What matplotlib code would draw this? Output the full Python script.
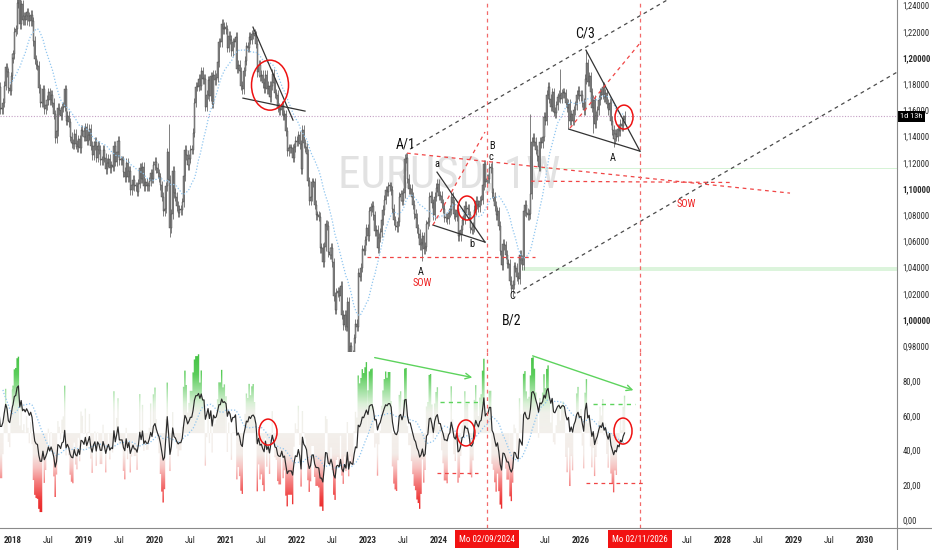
import numpy as np
import pandas as pd
import matplotlib
matplotlib.use("Agg")
import matplotlib.pyplot as plt
import matplotlib.transforms as mtransforms
from matplotlib.path import Path
from matplotlib.patches import PathPatch, Ellipse
from matplotlib.lines import Line2D
from matplotlib.colors import LinearSegmentedColormap, Normalize

plt.rcParams['font.family'] = ['Liberation Sans Narrow', 'Roboto Condensed', 'Liberation Sans', 'DejaVu Sans']

W, H = 932, 550
WEEK = 1 / 52.18

# weekly closes EURUSD, one list per year (first value = first week of the list)
start_2017 = 2017.59
close_2017 = [1.177, 1.182, 1.176, 1.192, 1.186, 1.203, 1.194, 1.195, 1.181, 1.173, 1.182, 1.178,
              1.161, 1.161, 1.166, 1.179, 1.193, 1.189, 1.177, 1.175, 1.186, 1.200]
close_2018 = [1.203, 1.220, 1.222, 1.242, 1.247, 1.226, 1.241, 1.229, 1.232, 1.229, 1.235, 1.232,
              1.228, 1.233, 1.228, 1.213, 1.199, 1.195, 1.194, 1.177, 1.166, 1.166, 1.176, 1.161,
              1.164, 1.168, 1.174, 1.168, 1.172, 1.166, 1.157, 1.139, 1.144, 1.162, 1.160, 1.156,
              1.162, 1.163, 1.176, 1.152, 1.156, 1.151, 1.140, 1.135, 1.134, 1.142, 1.134, 1.132,
              1.138, 1.131, 1.145, 1.144]
close_2019 = [1.140, 1.147, 1.137, 1.141, 1.146, 1.133, 1.126, 1.133, 1.136, 1.124, 1.133, 1.130,
              1.122, 1.122, 1.130, 1.124, 1.115, 1.120, 1.123, 1.116, 1.118, 1.117, 1.133, 1.121,
              1.128, 1.137, 1.122, 1.122, 1.122, 1.113, 1.109, 1.120, 1.109, 1.114, 1.099, 1.103,
              1.107, 1.102, 1.102, 1.098, 1.104, 1.116, 1.108, 1.117, 1.102, 1.105, 1.102, 1.102,
              1.106, 1.112, 1.108, 1.118]
close_2020 = [1.121, 1.116, 1.112, 1.109, 1.103, 1.094, 1.083, 1.085, 1.102, 1.128, 1.107, 1.070,
              1.081, 1.114, 1.097, 1.094, 1.087, 1.082, 1.084, 1.084, 1.090, 1.110, 1.130, 1.126,
              1.118, 1.123, 1.130, 1.130, 1.143, 1.166, 1.178, 1.178, 1.184, 1.179, 1.190, 1.184,
              1.184, 1.163, 1.172, 1.183, 1.171, 1.186, 1.165, 1.187, 1.183, 1.185, 1.197, 1.212,
              1.212, 1.226, 1.222, 1.224]
close_2021 = [1.222, 1.208, 1.217, 1.214, 1.205, 1.212, 1.212, 1.216, 1.192, 1.195, 1.190, 1.179,
              1.176, 1.190, 1.198, 1.209, 1.208, 1.216, 1.214, 1.218, 1.219, 1.217, 1.211, 1.189,
              1.195, 1.186, 1.187, 1.181, 1.177, 1.187, 1.176, 1.179, 1.170, 1.179, 1.188, 1.181,
              1.173, 1.172, 1.162, 1.160, 1.160, 1.164, 1.156, 1.157, 1.144, 1.129, 1.131, 1.131,
              1.131, 1.124, 1.132, 1.137]
close_2022 = [1.136, 1.141, 1.134, 1.115, 1.145, 1.135, 1.132, 1.127, 1.106, 1.091, 1.094, 1.105,
              1.105, 1.088, 1.080, 1.080, 1.079, 1.055, 1.055, 1.044, 1.056, 1.073, 1.072, 1.052,
              1.050, 1.055, 1.044, 1.018, 1.008, 1.021, 1.022, 1.018, 1.026, 1.004, 0.996, 1.004,
              0.995, 1.014, 0.969, 0.980, 0.974, 0.972, 0.986, 0.997, 0.995, 1.036, 1.033, 1.040,
              1.054, 1.053, 1.061, 1.070]
close_2023 = [1.064, 1.083, 1.086, 1.087, 1.080, 1.068, 1.069, 1.055, 1.063, 1.067, 1.076, 1.084,
              1.092, 1.099, 1.098, 1.102, 1.102, 1.099, 1.085, 1.076, 1.072, 1.071, 1.075, 1.094,
              1.096, 1.091, 1.097, 1.123, 1.124, 1.108, 1.100, 1.100, 1.094, 1.088, 1.081, 1.078,
              1.070, 1.066, 1.057, 1.059, 1.064, 1.054, 1.056, 1.073, 1.075, 1.094, 1.095, 1.089,
              1.080, 1.094, 1.101, 1.104]
close_2024 = [1.095, 1.095, 1.089, 1.085, 1.078, 1.078, 1.077, 1.082, 1.084, 1.094, 1.089, 1.081,
              1.079, 1.084, 1.064, 1.065, 1.069, 1.076, 1.077, 1.087, 1.085, 1.085, 1.080, 1.070,
              1.069, 1.071, 1.084, 1.091, 1.088, 1.086, 1.091, 1.092, 1.103, 1.119, 1.105, 1.108,
              1.108, 1.116, 1.116, 1.097, 1.094, 1.087, 1.080, 1.083, 1.072, 1.053, 1.042, 1.058,
              1.057, 1.050, 1.043, 1.043]
close_2025 = [1.030, 1.024, 1.027, 1.041, 1.040, 1.033, 1.031, 1.050, 1.046, 1.042, 1.083, 1.088,
              1.082, 1.080, 1.081, 1.096, 1.136, 1.139, 1.136, 1.130, 1.125, 1.117, 1.136, 1.135,
              1.140, 1.155, 1.152, 1.172, 1.178, 1.169, 1.163, 1.174, 1.159, 1.158, 1.164, 1.170,
              1.172, 1.169, 1.173, 1.174, 1.173, 1.166, 1.162, 1.165, 1.152, 1.157, 1.152, 1.160,
              1.164, 1.172, 1.175, 1.171]
close_2026 = [1.172, 1.166, 1.160, 1.184, 1.196, 1.182, 1.186, 1.174, 1.162, 1.168, 1.150, 1.156,
              1.160, 1.168, 1.174, 1.172, 1.178, 1.170, 1.173, 1.165, 1.160, 1.166, 1.152, 1.145,
              1.138, 1.142, 1.140, 1.146, 1.144, 1.150, 1.148, 1.153, 1.156]

# extreme wicks (time, price)
spike_highs = [(2018.10, 1.2555), (2020.19, 1.1495), (2023.54, 1.1276), (2024.74, 1.1214),
               (2025.28, 1.1573), (2025.71, 1.1919), (2026.07, 1.2060)]
spike_lows = [(2020.22, 1.0636), (2022.74, 0.9536), (2023.76, 1.0448), (2024.30, 1.0601),
              (2025.04, 1.0177), (2025.83, 1.1457), (2026.18, 1.1430), (2026.46, 1.1320)]

last_price = 1.1557
price_ticks = [0.98, 1.00, 1.02, 1.04, 1.06, 1.08, 1.10, 1.12, 1.14, 1.16, 1.18, 1.20, 1.22, 1.24]
osc_ticks = [0, 20, 40, 60, 80]
time_ticks = [2018, 2018.5, 2019, 2019.5, 2020, 2020.5, 2021, 2021.5, 2022, 2022.5, 2023, 2023.5,
              2024, 2024.5, 2025, 2025.5, 2026, 2026.5, 2027, 2027.5, 2028, 2028.5, 2029, 2029.5, 2030]
time_labels = ['2018', 'Jul', '2019', 'Jul', '2020', 'Jul', '2021', 'Jul', '2022', 'Jul', '2023', 'Jul',
               '2024', 'Jul', '2025', 'Jul', '2026', 'Jul', '2027', 'Jul', '2028', 'Jul', '2029', 'Jul', '2030']
marked_dates = [2024.676, 2026.831]
marked_labels = ['Mo 02/09/2024', 'Mo 02/11/2026']

# ---- assemble series
years_lists = [(start_2017, close_2017), (2018, close_2018), (2019, close_2019), (2020, close_2020),
               (2021, close_2021), (2022, close_2022), (2023, close_2023), (2024, close_2024),
               (2025, close_2025), (2026, close_2026)]
xs, cl = [], []
for s, lst in years_lists:
    for k, v in enumerate(lst):
        xs.append(s + k * WEEK)
        cl.append(v)
xs = np.array(xs)
cl = np.array(cl)
op = np.concatenate([[cl[0]], cl[:-1]])
wick = 0.0035
hi = np.maximum(op, cl) + wick
lo = np.minimum(op, cl) - wick
for t, v in spike_highs:
    i = np.argmin(np.abs(xs - t))
    hi[i] = max(hi[i], v)
for t, v in spike_lows:
    i = np.argmin(np.abs(xs - t))
    lo[i] = min(lo[i], v)

s = pd.Series(cl)
ma = s.rolling(20).mean()


def rsi(series, n):
    d = series.diff()
    up = d.clip(lower=0).ewm(alpha=1 / n, adjust=False).mean()
    dn = (-d.clip(upper=0)).ewm(alpha=1 / n, adjust=False).mean()
    return 100 - 100 / (1 + up / dn)


rsi14 = rsi(s, 14)
rsi_ma = rsi14.rolling(14).mean()
fast = rsi(s, 4).fillna(50).values

# ---- figure
fig = plt.figure(figsize=(W / 100, H / 100), dpi=100)
ax = fig.add_axes([0, 1 - 352 / H, 897 / W, 352 / H])
osc = fig.add_axes([0, (H - 528) / H, 897 / W, 176 / H])
XL = (2017.817, 2030.451)
for a in (ax, osc):
    a.set_xlim(*XL)
    for sp in a.spines.values():
        sp.set_visible(False)
    a.set_facecolor('none')
ax.set_ylim(0.9756, 1.2443)
osc.set_ylim(-4.6, 96.7)

yr_px = (XL[1] - XL[0]) / 897
pr_px = (1.2443 - 0.9756) / 352
os_px = (96.7 + 4.6) / 176

# watermark
ax.text(2024.14, 1.1100, 'EURUSD, 1W', fontsize=32.5, color='#e2e2e2', ha='center', va='center', zorder=0)

# candles
ax.vlines(xs, lo, hi, color='#5c5c5c', lw=0.55, zorder=2)
body = np.maximum(np.abs(cl - op), 0.0008)
ax.bar(xs, body, bottom=np.minimum(op, cl), width=WEEK * 0.75, color='#a0a0a0',
       edgecolor='#404040', linewidth=0.3, zorder=3)
ax.plot(xs, ma, color='#8fc5ef', lw=0.9, ls=(0, (1, 1.5)), zorder=4)

# last price line
ax.axhline(last_price, color='#c4a0c4', lw=0.8, ls=(0, (1, 1.5)), zorder=1)

# green zones
ax.fill_between([2025.324, XL[1]], 1.1152, 1.1162, color='#d6f3d6', lw=0, zorder=1)
ax.fill_between([2025.169, XL[1]], 1.0374, 1.0405, color='#dcf4dc', lw=0, zorder=1)

# black trend lines
blk = dict(color='#333333', lw=0.9, zorder=5)
ax.plot([2021.380, 2021.944], [1.2236, 1.1526], **blk)
ax.plot([2021.239, 2022.113], [1.1694, 1.1595], **blk)
ax.plot([2023.972, 2024.648], [1.1129, 1.0595], **blk)
ax.plot([2023.915, 2024.648], [1.0725, 1.0595], **blk)
ax.plot([2026.070, 2026.831], [1.2060, 1.1289], **blk)
ax.plot([2025.831, 2026.831], [1.1457, 1.1289], **blk)
# channel
dsh = dict(color='#4a4a4a', lw=0.9, ls=(0, (3, 3)), zorder=5)
ax.plot([2023.592, 2027.8], [1.1305, 1.2627], **dsh)
ax.plot([2025.099, 2030.451], [1.0206, 1.1892], **dsh)

# red dashed lines
red = dict(color='#f04545', lw=0.9, ls=(0, (3, 3)), zorder=5)
ax.plot([2023.549, 2028.944], [1.1274, 1.0969], **red)
ax.plot([2025.295, 2028.099], [1.1060, 1.1050], **red)
ax.plot([2022.986, 2025.352], [1.0481, 1.0481], **red)
ax.plot([2023.915, 2024.648], [1.0725, 1.1435], **red)
ax.plot([2025.845, 2026.831], [1.1465, 1.2114], **red)
for d in marked_dates:
    ax.axvline(d, color='#f26a6a', lw=0.9, ls=(0, (3, 3)), zorder=5)
    osc.axvline(d, color='#f26a6a', lw=0.9, ls=(0, (3, 3)), zorder=5)

# circles
circ = dict(fill=False, ec='#ee1111', lw=1.1, zorder=6)
ax.add_patch(Ellipse((2021.620, 1.1793), 37 * yr_px, 50 * pr_px, **circ))
ax.add_patch(Ellipse((2024.394, 1.0855), 18 * yr_px, 24 * pr_px, **circ))
ax.add_patch(Ellipse((2026.606, 1.1549), 18 * yr_px, 24 * pr_px, **circ))

# wave labels
big = dict(fontsize=10, color='#111111', ha='center', va='center', zorder=7)
sml = dict(fontsize=7.5, color='#111111', ha='center', va='center', zorder=7)
sow = dict(fontsize=7.5, color='#ee2020', ha='center', va='center', zorder=7)
ax.text(2023.535, 1.1343, 'A/1', **big)
ax.text(2026.056, 1.2190, 'C/3', **big)
ax.text(2025.028, 1.0000, 'B/2', **big)
ax.text(2023.972, 1.1190, 'a', **sml)
ax.text(2024.465, 1.0580, 'b', **sml)
ax.text(2024.746, 1.1328, 'B', **sml)
ax.text(2024.732, 1.1244, 'c', **sml)
ax.text(2023.746, 1.0366, 'A', **sml)
ax.text(2025.028, 1.0183, 'C', **sml)
ax.text(2026.451, 1.1236, 'A', **sml)
ax.text(2023.761, 1.0282, 'SOW', **sow)
ax.text(2027.479, 1.0885, 'SOW', **sow)

# ---- oscillator pane
cmap = LinearSegmentedColormap.from_list('osc', [
    (0.00, '#e51c1c'), (0.12, '#ef3c3c'), (0.22, '#f47f7f'), (0.30, '#f7c2c0'),
    (0.38, '#f3ece8'), (0.50, '#f3f0ec'), (0.62, '#f0f0ea'), (0.67, '#dbf1d8'),
    (0.74, '#a6e2a6'), (0.84, '#5bcd5b'), (1.00, '#3cbf3c')])
grad = np.linspace(-4.6, 96.7, 500)[:, None]
im = osc.imshow(grad, cmap=cmap, norm=Normalize(0, 100), origin='lower', aspect='auto',
                extent=[XL[0], XL[1], -4.6, 96.7], zorder=1, interpolation='bilinear')
verts, codes = [], []
for xi, v in zip(xs, fast):
    a0, a1 = xi - WEEK / 2, xi + WEEK / 2
    b0, b1 = min(50, v), max(50, v)
    verts += [(a0, b0), (a0, b1), (a1, b1), (a1, b0), (a0, b0)]
    codes += [Path.MOVETO, Path.LINETO, Path.LINETO, Path.LINETO, Path.CLOSEPOLY]
clip = PathPatch(Path(verts, codes), transform=osc.transData, fc='none', ec='none')
osc.add_patch(clip)
im.set_clip_path(clip)
osc.set_xlim(*XL)
osc.set_ylim(-4.6, 96.7)

osc.plot(xs, rsi_ma, color='#8fc5ef', lw=0.9, ls=(0, (1, 1.5)), zorder=3)
osc.plot(xs, rsi14, color='#2a2a2a', lw=0.85, zorder=4)

grn = dict(color='#5dd35d', lw=1.0, zorder=5)
osc.annotate('', xy=(2024.507, 81.7), xytext=(2023.056, 93.8),
             arrowprops=dict(arrowstyle='->', color='#5dd35d', lw=1.0))
osc.annotate('', xy=(2026.775, 74.2), xytext=(2025.282, 95.0),
             arrowprops=dict(arrowstyle='->', color='#5dd35d', lw=1.0))
osc.plot([2024.014, 2024.606], [67.9, 67.9], ls=(0, (3, 3)), **grn)
osc.plot([2026.169, 2026.761], [66.8, 66.8], ls=(0, (3, 3)), **grn)
osc.plot([2023.972, 2024.549], [27.1, 27.1], **red)
osc.plot([2026.070, 2026.873], [21.3, 21.3], **red)
for cx, cy in [(2021.592, 50.6), (2024.380, 50.1), (2026.592, 51.2)]:
    osc.add_patch(Ellipse((cx, cy), 18 * yr_px, 26 * os_px, **circ))

# ---- axes labels
ax.yaxis.tick_right()
ax.set_yticks(price_ticks)
ax.set_yticklabels([f"{v:.5f}".replace('.', ',') for v in price_ticks])
ax.tick_params(axis='y', length=0, pad=3.8, labelsize=6.2, labelcolor='#2a2a2a')
ax.tick_params(axis='x', bottom=False, labelbottom=False)
for v, lab in zip(price_ticks, ax.get_yticklabels()):
    if abs(round(v, 2) * 10 - round(v * 10)) < 1e-6:
        lab.set_fontweight('bold')
osc.yaxis.tick_right()
osc.set_yticks(osc_ticks)
osc.set_yticklabels([f"{v:.2f}".replace('.', ',') for v in osc_ticks])
osc.tick_params(axis='y', length=0, pad=3.8, labelsize=6.2, labelcolor='#2a2a2a')
osc.set_xticks(time_ticks)
osc.set_xticklabels(time_labels)
osc.tick_params(axis='x', length=0, pad=5.5, labelsize=6.5, labelcolor='#2a2a2a')
for lab in osc.get_xticklabels():
    if lab.get_text() != 'Jul':
        lab.set_fontweight('bold')

fig.add_artist(Line2D([897 / W, 897 / W], [0, 1], color='#8a8a8a', lw=0.8))
fig.add_artist(Line2D([0, 1], [(H - 528) / H] * 2, color='#8a8a8a', lw=0.8))

bt = mtransforms.blended_transform_factory(osc.transData, fig.transFigure)
for d, lab in zip(marked_dates, marked_labels):
    osc.text(d, (H - 539) / H, lab, transform=bt, color='white', fontsize=6.5, ha='center',
             va='center', clip_on=False, zorder=10,
             bbox=dict(boxstyle='square,pad=0.5', fc='#f21212', ec='none'))
pt = mtransforms.blended_transform_factory(fig.transFigure, ax.transData)
ax.text(911.5 / W, last_price, '1d 13h', transform=pt, color='white', fontsize=6, ha='center',
        va='center', clip_on=False, zorder=10,
        bbox=dict(boxstyle='square,pad=0.3', fc='black', ec='none'))

fig.savefig('out.png', dpi=100, facecolor='white')
